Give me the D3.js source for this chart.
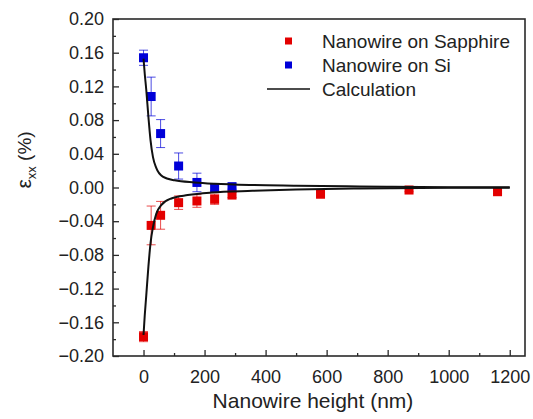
<!DOCTYPE html>
<html>
<head>
<meta charset="utf-8">
<script src="https://cdn.jsdelivr.net/npm/d3@7"></script>
<style>
  html, body { margin: 0; padding: 0; background: #fff; }
  svg { display: block; font-family: "Liberation Sans", Arial, sans-serif; }
</style>
</head>
<body>
<svg id="chart" width="533" height="419"></svg>
<script>
// ---- data ----
const heights = [0, 25, 56, 115, 175, 233, 290];
const siStrain = [0.154, 0.108, 0.064, 0.0255, 0.006, 0.000, 0.001];
const siError = [0.009, 0.023, 0.0166, 0.0155, 0.011, 0.004, 0.003];

const sapphireHeights = [0, 25, 56, 115, 175, 233, 290, 580, 870, 1160];
const sapphireStrain = [-0.177, -0.045, -0.033, -0.018, -0.016, -0.014, -0.009, -0.008, -0.003, -0.005];
const sapphireError = [0.006, 0.023, 0.0165, 0.008, 0.0075, 0.006, 0.003, 0.002, 0.002, 0.002];

const calcSiX = [0, 4, 9, 16, 23, 31, 42, 63, 102, 167, 233, 357, 500, 708, 816, 1000, 1200];
const calcSiY = [0.153, 0.135, 0.116, 0.084, 0.056, 0.036, 0.023, 0.013, 0.0085, 0.006, 0.0045, 0.003, 0.0022, 0.0012, 0.0008, 0.0004, 0.0002];
const calcSapX = [0, 4, 9, 16, 23, 31, 42, 58, 91, 145, 222, 357, 500, 708, 816, 1000, 1200];
const calcSapY = [-0.175, -0.152, -0.128, -0.094, -0.066, -0.047, -0.031, -0.021, -0.013, -0.009, -0.006, -0.004, -0.0025, -0.0012, -0.0008, -0.0004, -0.0002];

const xTicks = [0, 200, 400, 600, 800, 1000, 1200];
const xMinor = [100, 300, 500, 700, 900, 1100];
const yTicks = [-0.20, -0.16, -0.12, -0.08, -0.04, 0.00, 0.04, 0.08, 0.12, 0.16, 0.20];
const yMinor = [-0.18, -0.14, -0.10, -0.06, -0.02, 0.02, 0.06, 0.10, 0.14, 0.18];

const legendLabels = ["Nanowire on Sapphire", "Nanowire on Si", "Calculation"];
const xTitle = "Nanowire height (nm)";

// ---- layout ----
const svg = d3.select("#chart");
const m = { left: 113, right: 525, top: 19, bottom: 356 };
const red = "#e30000", blue = "#0000d8", axisColor = "#2a2a2a";

const x = d3.scaleLinear().domain([-100, 1250]).range([m.left, m.right]);
const y = d3.scaleLinear().domain([-0.20, 0.20]).range([m.bottom, m.top]);

// calculation curves
const line = d3.line().x(d => x(d[0])).y(d => y(d[1])).curve(d3.curveMonotoneX);
const calcSi = calcSiX.map((v, i) => [v, calcSiY[i]]);
const calcSap = calcSapX.map((v, i) => [v, calcSapY[i]]);

const plot = svg.append("g");

// data points with error bars
function drawSeries(xs, ys, es, color) {
  const g = plot.append("g");
  xs.forEach((xv, i) => {
    const cx = x(xv), cy = y(ys[i]);
    const y1 = y(ys[i] + es[i]), y2 = y(ys[i] - es[i]);
    g.append("line").attr("x1", cx).attr("x2", cx).attr("y1", y1).attr("y2", y2)
      .attr("stroke", color).attr("stroke-width", 1).attr("opacity", 0.7);
    [y1, y2].forEach(yy => g.append("line").attr("x1", cx - 4.5).attr("x2", cx + 4.5)
      .attr("y1", yy).attr("y2", yy).attr("stroke", color).attr("stroke-width", 1).attr("opacity", 0.7));
    g.append("rect").attr("x", cx - 4.5).attr("y", cy - 4.5).attr("width", 9).attr("height", 9)
      .attr("fill", color);
  });
}
drawSeries(heights, siStrain, siError, blue);
drawSeries(sapphireHeights, sapphireStrain, sapphireError, red);

plot.append("path").datum(calcSi).attr("d", line).attr("fill", "none")
  .attr("stroke", "#111").attr("stroke-width", 2);
plot.append("path").datum(calcSap).attr("d", line).attr("fill", "none")
  .attr("stroke", "#111").attr("stroke-width", 2);

// axes
const fmt = d3.format(".2f");
const xAxis = svg.append("g").attr("transform", `translate(0,${m.bottom})`)
  .call(d3.axisBottom(x).tickValues(xTicks).tickSizeInner(-6).tickSizeOuter(0).tickPadding(14).tickFormat(d3.format("d")));
const xAxisMinor = svg.append("g").attr("transform", `translate(0,${m.bottom})`)
  .call(d3.axisBottom(x).tickValues(xMinor).tickSizeInner(-3).tickSizeOuter(0).tickFormat(""));
const yAxis = svg.append("g").attr("transform", `translate(${m.left},0)`)
  .call(d3.axisLeft(y).tickValues(yTicks).tickSizeInner(-6).tickSizeOuter(0).tickPadding(9).tickFormat(fmt));
const yAxisMinor = svg.append("g").attr("transform", `translate(${m.left},0)`)
  .call(d3.axisLeft(y).tickValues(yMinor).tickSizeInner(-3).tickSizeOuter(0).tickFormat(""));

[xAxis, xAxisMinor, yAxis, yAxisMinor].forEach(a => {
  a.select(".domain").remove();
  a.selectAll(".tick line").attr("stroke", axisColor).attr("stroke-width", 1.3);
  a.selectAll(".tick text").attr("fill", "#222").style("font-size", "18px")
    .style("font-family", "'Liberation Sans', Arial, sans-serif");
});

// frame
svg.append("rect").attr("x", m.left).attr("y", m.top)
  .attr("width", m.right - m.left).attr("height", m.bottom - m.top)
  .attr("fill", "none").attr("stroke", axisColor).attr("stroke-width", 1.6);

// axis titles
svg.append("text").attr("x", 313).attr("y", 408)
  .attr("text-anchor", "middle").attr("fill", "#222").style("font-size", "21px")
  .text(xTitle);

const yt = svg.append("text").attr("transform", "translate(31,160) rotate(-90)")
  .attr("text-anchor", "middle").attr("fill", "#222").style("font-size", "19px");
yt.append("tspan").style("font-size", "21px").text("ε");
yt.append("tspan").attr("dy", 5).style("font-size", "13px").text("xx");
yt.append("tspan").attr("dy", -5).text(" (%)");

// legend
const lg = svg.append("g");
const legendY = [41, 65, 89];
lg.append("rect").attr("x", 285).attr("y", legendY[0] - 3.5).attr("width", 7).attr("height", 7).attr("fill", red);
lg.append("rect").attr("x", 285).attr("y", legendY[1] - 3.5).attr("width", 7).attr("height", 7).attr("fill", blue);
lg.append("line").attr("x1", 267).attr("x2", 310).attr("y1", legendY[2]).attr("y2", legendY[2])
  .attr("stroke", "#111").attr("stroke-width", 1.6);
legendLabels.forEach((t, i) => {
  lg.append("text").attr("x", 322).attr("y", legendY[i] + 7).attr("fill", "#222")
    .style("font-size", "19px").text(t);
});
</script>
</body>
</html>
